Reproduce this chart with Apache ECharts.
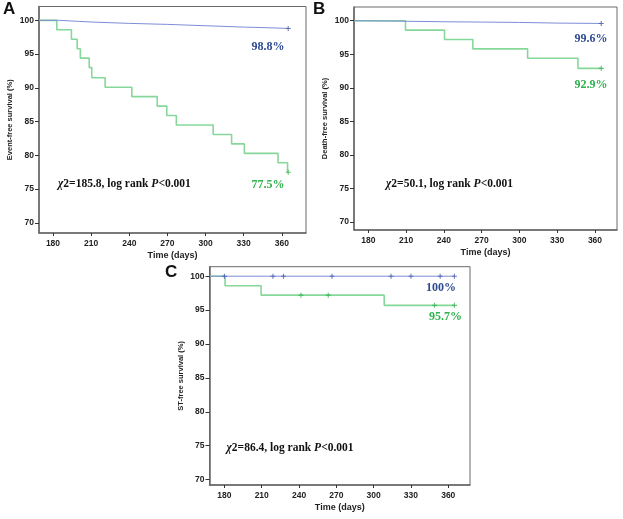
<!DOCTYPE html>
<html><head><meta charset="utf-8">
<script src="https://cdn.jsdelivr.net/npm/echarts@6/dist/echarts.min.js"></script>
<style>html,body{margin:0;padding:0;background:#fff}#c{width:623px;height:519px}</style>
</head><body><div id="c"></div><script>
// ---- tick labels ----
const xTicks = [180, 210, 240, 270, 300, 330, 360];
const yTicks = [70, 75, 80, 85, 90, 95, 100];

// ---- Panel A : Event-free survival ----
const aBlueDays  = [169, 185, 200, 210, 240, 270, 300, 330, 350, 365];
const aBlueVals  = [100, 100, 99.85, 99.75, 99.55, 99.4, 99.2, 99.0, 98.9, 98.8];
const aGreenDays = [169, 183, 194.5, 199, 201.5, 208.5, 210.5, 221, 242, 262, 269.5, 277, 306, 320.5, 330.5, 357, 364.5, 365];
const aGreenVals = [100, 98.6, 97.2, 95.8, 94.4, 93.0, 91.5, 90.1, 88.7, 87.3, 85.9, 84.5, 83.1, 81.7, 80.3, 78.9, 77.5, 77.5];
const aBlueCensDays = [365];
const aBlueCensVals = [98.8];
const aGreenCensDays = [365];
const aGreenCensVals = [77.5];

// ---- Panel B : Death-free survival ----
const bBlueDays  = [169, 200, 240, 270, 300, 330, 365];
const bBlueVals  = [100, 99.95, 99.85, 99.8, 99.75, 99.65, 99.6];
const bGreenDays = [169, 209.5, 240.5, 263, 306.5, 346.5, 365];
const bGreenVals = [100, 98.6, 97.2, 95.8, 94.4, 92.9, 92.9];
const bBlueCensDays = [365];
const bBlueCensVals = [99.6];
const bGreenCensDays = [365];
const bGreenCensVals = [92.9];

// ---- Panel C : ST-free survival ----
const cBlueDays  = [168.5, 365];
const cBlueVals  = [100, 100];
const cGreenDays = [168.5, 180.5, 209.5, 308.5, 365];
const cGreenVals = [100, 98.6, 97.2, 95.7, 95.7];
const cBlueCensDays = [180, 219, 227.5, 266.5, 314, 330, 353.5, 365];
const cBlueCensVals = [100, 100, 100, 100, 100, 100, 100, 100];
const cGreenCensDays = [241.5, 263.5, 349, 365];
const cGreenCensVals = [97.2, 97.2, 95.7, 95.7];

// ---- texts ----
const panelTitles = ['Event-free survival (%)', 'Death-free survival (%)', 'ST-free survival (%)'];
const xName = 'Time (days)';
const finalBlue = ['98.8%', '99.6%', '100%'];
const finalGreen = ['77.5%', '92.9%', '95.7%'];
const chiVals = ['185.8', '50.1', '86.4'];
const letters = ['A', 'B', 'C'];

const BLUE_LINE = '#7d8ed8', GREEN_LINE = '#86d89a';
const BLUE_MARK = '#4658a8', GREEN_MARK = '#36b152';
const BLUE_TXT = '#2d4a93', GREEN_TXT = '#2fb24e';
const PLUS = 'path://M-0.22,-1 L0.22,-1 L0.22,-0.22 L1,-0.22 L1,0.22 L0.22,0.22 L0.22,1 L-0.22,1 L-0.22,0.22 L-1,0.22 L-1,-0.22 L-0.22,-0.22 Z';

const zip = (xs, ys) => xs.map((x, i) => [x, ys[i]]);

const grids = [
  {left: 39, top: 6.5, width: 267, height: 226.5},
  {left: 354, top: 7, width: 263, height: 223},
  {left: 209.5, top: 266.7, width: 260.5, height: 218.3}
];
const xRanges = [[169, 379], [168.6, 377.5], [168, 377.5]];
const yRanges = [[68.5, 102.05], [68.8, 102.05], [69.2, 101.4]];

const lab = {fontFamily: 'Liberation Sans, Arial, sans-serif', fontWeight: 'bold', color: '#222'};

const option = {
  animation: false,
  backgroundColor: '#fff',
  grid: grids.map(g => Object.assign({show: true, borderColor: '#6a6a6a', borderWidth: 1, backgroundColor: 'transparent'}, g)),
  xAxis: grids.map((g, i) => ({
    type: 'value', gridIndex: i, min: xRanges[i][0], max: xRanges[i][1],
    name: xName, nameLocation: 'middle', nameGap: 18,
    nameTextStyle: Object.assign({fontSize: 9}, lab),
    axisLine: {show: true, onZero: false, lineStyle: {color: '#666', width: 1.5}},
    axisTick: {show: true, customValues: xTicks, length: 3, lineStyle: {color: '#333'}},
    axisLabel: Object.assign({customValues: xTicks, fontSize: 8.5, margin: 6}, lab),
    splitLine: {show: false}
  })),
  yAxis: grids.map((g, i) => ({
    type: 'value', gridIndex: i, min: yRanges[i][0], max: yRanges[i][1],
    name: panelTitles[i], nameLocation: 'middle', nameGap: 25,
    nameTextStyle: Object.assign({fontSize: 7.5}, lab),
    axisLine: {show: true, onZero: false, lineStyle: {color: '#666', width: 1.5}},
    axisTick: {show: true, customValues: yTicks, length: 4, lineStyle: {color: '#333'}},
    axisLabel: Object.assign({customValues: yTicks, fontSize: 8.5, margin: 5}, lab),
    splitLine: {show: false}
  })),
  series: [],
  graphic: []
};

const panels = [
  [aBlueDays, aBlueVals, aGreenDays, aGreenVals, aBlueCensDays, aBlueCensVals, aGreenCensDays, aGreenCensVals],
  [bBlueDays, bBlueVals, bGreenDays, bGreenVals, bBlueCensDays, bBlueCensVals, bGreenCensDays, bGreenCensVals],
  [cBlueDays, cBlueVals, cGreenDays, cGreenVals, cBlueCensDays, cBlueCensVals, cGreenCensDays, cGreenCensVals]
];
panels.forEach((p, i) => {
  option.series.push(
    {type: 'line', xAxisIndex: i, yAxisIndex: i, data: zip(p[0], p[1]), showSymbol: false, symbol: 'none',
     lineStyle: {color: BLUE_LINE, width: 1}, z: 3},
    {type: 'line', xAxisIndex: i, yAxisIndex: i, data: zip(p[2], p[3]), step: 'end', showSymbol: false, symbol: 'none',
     lineStyle: {color: GREEN_LINE, width: 1.6}, z: 2},
    {type: 'scatter', xAxisIndex: i, yAxisIndex: i, data: zip(p[4], p[5]), symbol: PLUS, symbolSize: 5,
     itemStyle: {color: BLUE_MARK}, z: 4},
    {type: 'scatter', xAxisIndex: i, yAxisIndex: i, data: zip(p[6], p[7]), symbol: PLUS, symbolSize: 5,
     itemStyle: {color: GREEN_MARK}, z: 4}
  );
});

const serif = 'Liberation Serif, Times New Roman, serif';
const letterPos = [[3, 1], [313, 1], [165, 264]];
const bluePos = [[268, 47], [591, 39], [441, 287.5]];
const greenPos = [[268, 185], [591, 85], [445.5, 317]];
const chiPos = [[58, 184], [386, 184], [226.5, 448]];
for (let i = 0; i < 3; i++) {
  option.graphic.push(
    {type: 'text', left: letterPos[i][0], top: letterPos[i][1],
     style: {text: letters[i], font: 'bold 17px Liberation Sans, Arial, sans-serif', fill: '#111'}},
    {type: 'text', x: bluePos[i][0], y: bluePos[i][1],
     style: {text: finalBlue[i], font: 'bold 12px ' + serif, fill: BLUE_TXT, align: 'center', verticalAlign: 'middle'}},
    {type: 'text', x: greenPos[i][0], y: greenPos[i][1],
     style: {text: finalGreen[i], font: 'bold 12px ' + serif, fill: GREEN_TXT, align: 'center', verticalAlign: 'middle'}},
    {type: 'text', x: chiPos[i][0], y: chiPos[i][1],
     style: {text: '{i|χ}2=' + chiVals[i] + ', log rank {i|P}<0.001', verticalAlign: 'middle',
       font: 'bold 11.5px ' + serif, fill: '#111',
       rich: {i: {fontStyle: 'italic', fontWeight: 'bold', fontFamily: serif, fontSize: 11.5, fill: '#111', color: '#111'}}}}
  );
}

const chart = echarts.init(document.getElementById('c'), null, {renderer: 'canvas'});
chart.setOption(option);
</script></body></html>
